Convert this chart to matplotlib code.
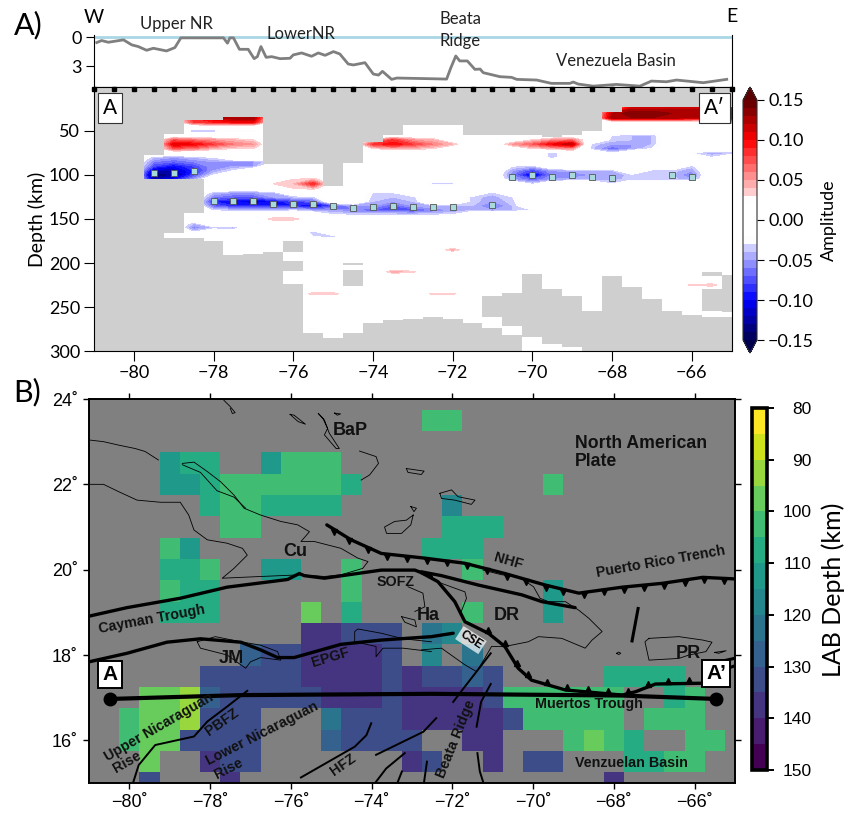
import numpy as np
import matplotlib
matplotlib.use("Agg")
import matplotlib.pyplot as plt
from matplotlib.colors import LinearSegmentedColormap

plt.rcParams['font.family'] = ['Lato', 'DejaVu Sans']

W, H = 851.0, 813.0

# Topography along the profile (lon, depth below sea level in km)
topo_lon = [-80.93, -80.81, -80.64, -80.26, -80.05, -79.89, -79.68, -79.51, -79.18, -78.97, -78.82, -77.75,
            -77.65, -77.59, -77.50, -77.35, -77.13, -76.98, -76.90, -76.81, -76.68, -76.54, -76.33, -76.08,
            -76.00, -75.79, -75.54, -75.37, -75.20, -74.99, -74.83, -74.62, -74.49, -74.20, -73.99, -73.86,
            -73.76, -73.53, -73.40, -72.57, -72.15, -72.05, -71.92, -71.82, -71.63, -71.44, -71.31, -71.23,
            -70.81, -70.52, -70.39, -69.89, -69.52, -69.06, -68.97, -68.85, -68.47, -67.89, -67.30, -67.01,
            -66.63, -66.38, -65.71, -65.12]
topo_depth = [0.54, 0.33, 0.51, 0.26, 0.79, 0.96, 1.35, 1.14, 1.42, 1.07, 0.05, 0.05,
              0.61, 0.05, 0.05, 1.25, 1.25, 2.23, 2.02, 0.96, 2.09, 2.02, 2.23, 2.19,
              1.84, 1.63, 1.98, 1.63, 1.88, 1.49, 1.74, 2.79, 2.89, 2.65, 3.84, 3.95,
              3.56, 4.40, 4.26, 4.33, 4.37, 3.25, 1.95, 2.47, 2.47, 3.35, 3.32, 3.70,
              4.12, 4.19, 4.40, 4.47, 4.82, 4.82, 4.68, 4.89, 5.11, 4.93, 5.11, 4.58,
              4.65, 4.47, 4.75, 4.40]

# Section amplitude in hundredths, depth (km) -> {lon: amp}; anything not listed is ~0
amp_rows = {
    20: {-67.5: 9, -67: 9, -66.5: 9, -66: 9, -65.5: 9, -65: 7},
    25: {-68: 6, -67.5: 12, -67: 12, -66.5: 12, -66: 12, -65.5: 12, -65: 10},
    30: {-77.5: 10, -77: 10, -68: 12, -67.5: 14, -67: 14, -66.5: 13, -66: 13, -65.5: 13, -65: 11},
    35: {-78.5: 9, -78: 11, -77.5: 13, -77: 13, -68: 13, -67.5: 13, -67: 13, -66.5: 13, -66: 12, -65.5: 11, -65: 11},
    40: {-78.5: 8, -78: 9, -77.5: 10, -77: 10, -65: 5},
    50: {-78.5: -5, -78: -4, -77.5: -3, -77: -3},
    55: {-68: -3, -67.5: -4, -67: -4},
    60: {-79: 7, -78.5: 6, -78: 5, -77.5: 4, -77: 3, -74: 3, -73.5: 8, -73: 5, -72.5: 4, -70: 3, -69.5: 5, -69: 6,
         -68: -3.5, -67.5: -4, -67: -4},
    65: {-79: 11, -78.5: 10, -78: 8, -77.5: 6, -77: 5, -74: 8, -73.5: 10, -73: 8, -72.5: 6, -72: 4, -70.5: 5, -70: 7,
         -69.5: 10, -69: 12, -68.5: -3.5, -68: -5, -67.5: -5, -67: -4},
    70: {-79: 7, -78.5: 6, -78: 4, -77.5: 3, -77: 3, -74: 3, -73.5: 4, -73: 4, -72.5: 3, -70: 3, -69.5: 4, -69: 5,
         -68.5: -4, -68: -7, -67.5: -5, -67: -3},
    75: {-69.5: -4, -68: -3, -66: -3, -65.5: -5, -65: -4},
    80: {-79.5: -4, -79: -5, -78.5: -4, -78: -3, -69.5: -4, -65.5: -3},
    85: {-79.5: -6, -79: -7, -78.5: -6, -78: -5, -77.5: -5, -77: -5, -76.5: -3},
    90: {-79.5: -8, -79: -10, -78.5: -8, -78: -5, -77.5: -5, -77: -5, -70.5: -3, -70: -4, -66: -3.5},
    95: {-79.5: -12, -79: -12, -78.5: -9, -78: -5, -77.5: -3, -70.5: -5, -70: -8, -69.5: -5, -69: -4.5, -68.5: -4,
         -68: -4, -67: -3.5, -66.5: -3.5, -66: -5},
    100: {-79.5: -15, -79: -13, -78.5: -8, -78: -3, -70.5: -6, -70: -12, -69.5: -6, -69: -6, -68.5: -5, -68: -5,
          -67.5: -3.5, -67: -4, -66.5: -4, -66: -6},
    105: {-79.5: -12, -79: -10, -78.5: -5, -76: 3, -75.5: 4, -70.5: -5, -70: -7, -69.5: -5, -69: -4.5, -68.5: -4.5,
          -68: -4.5, -67.5: -3.5, -67: -3.5, -66.5: -3.5, -66: -5},
    110: {-76.5: 3, -76: 4, -75.5: 9, -72.5: -4, -72: -4, -70: -3.5, -68: -3},
    115: {-76: 3, -75.5: 4},
    120: {-78: -4, -77.5: -5, -77: -5, -76.5: -4, -74: -3, -73.5: -3, -71: -3.5},
    125: {-78: -6, -77.5: -7, -77: -7, -76.5: -5, -76: -4, -75.5: -3.5, -74: -3.5, -73.5: -4, -73: -3.5, -71.5: -3.5,
          -71: -4.5, -70.5: -3},
    130: {-78: -9, -77.5: -10, -77: -11, -76.5: -10, -76: -8, -75.5: -7, -74: -4, -73.5: -5, -73: -4, -71.5: -3.5,
          -71: -5, -70.5: -3.5},
    135: {-78: -7, -77.5: -9, -77: -9, -76.5: -9, -76: -9, -75.5: -11, -75: -8, -74.5: -5, -74: -5, -73.5: -7,
          -73: -5, -72.5: -4, -72: -4, -71.5: -4, -71: -7, -70.5: -4},
    140: {-78: -3.5, -77.5: -4, -77: -4.5, -76.5: -4.5, -76: -3.5, -75.5: -5, -75: -5, -74.5: -6, -74: -7, -73.5: -7,
          -73: -8, -72.5: -6, -72: -5, -71.5: -4, -71: -5, -70.5: -4, -70: -3},
    145: {-75: -3, -74.5: -3.5, -74: -3.5, -73.5: -3.5, -73: -3.5, -72.5: -3.5, -72: -3},
    150: {-76.5: 4, -76: 4},
    155: {-78.5: -4},
    160: {-78.5: -6, -78: -4, -77.5: -5},
    165: {-78.5: -3, -75.5: -4},
    170: {-75.5: -3, -75: -4},
    185: {-72: 4.5},
    205: {-70: -3.2},
    210: {-73.5: 4.5, -73: 3.5},
    225: {-66: 3.5, -65.5: 4},
    235: {-75.5: 4, -75: 4, -72.5: 3.5, -72: 3.5},
    275: {-75.5: -4},
}

# Coverage of the section: per column, top and bottom of the resolved depths
cover_lon = [-81, -80.5, -80, -79.5, -79, -78.5, -78, -77.5, -77, -76.5, -76, -75.5, -75, -74.5, -74, -73.5, -73,
             -72.5, -72, -71.5, -71, -70.5, -70, -69.5, -69, -68.5, -68, -67.5, -67, -66.5, -66, -65.5, -65]
cover_top = [300, 300, 300, 77, 53, 37, 37, 34, 34, 87, 87, 87, 113, 86, 63, 55, 43,
             43, 43, 55, 55, 55, 55, 57, 55, 50, 28, 23, 23, 23, 23, 23, 23]
cover_bot = [300, 300, 300, 104, 172, 172, 175, 191, 190, 188, 224, 280, 285, 280, 268, 265, 264,
             261, 264, 268, 274, 282, 300, 300, 300, 254, 215, 227, 241, 254, 259, 261, 261]
# Grey gaps inside the covered columns
gap_lon = [-79, -78.5, -76, -76, -74.5, -71, -70.5, -70, -69.5, -69, -65.5, -65, -70, -74.5]
gap_top = [104, 104, 175, 198, 208, 237, 234, 212, 230, 237, 210, 214, 282, 200]
gap_bot = [166, 143, 188, 209, 226, 261, 272, 282, 292, 295, 215, 256, 284, 202]
gap2_lon = [-65.5]
gap2_top = [229]
gap2_bot = [254]

# Picked LAB points on the section
lab_pick_lon = [-79.5, -79, -78.5, -78, -77.5, -77, -76.5, -76, -75.5, -75, -74.5, -74, -73.5, -73, -72.5, -72,
                -71, -70.5, -70, -69.5, -69, -68.5, -68, -66.5, -66]
lab_pick_depth = [98, 98, 96, 130, 130, 130, 133, 133, 133, 135, 137, 136, 135, 136, 136, 136,
                  134, 102, 100, 102, 100, 102, 103, 100, 102]
station_lon = [-81 + 0.5 * i for i in range(33)]

amp_ticks = [0.15, 0.10, 0.05, 0.00, -0.05, -0.10, -0.15]
amp_tick_labels = ['0.15', '0.10', '0.05', '0.00', '\u22120.05', '\u22120.10', '\u22120.15']

# LAB depth map, latitude -> {lon: depth km}
lab_rows = {
    23.5: {-72.5: 102, -72: 102},
    22.5: {-79: 112, -78.5: 107, -78: 107, -76.5: 112, -76: 102, -75.5: 102, -75: 102},
    22: {-79: 112, -78.5: 112, -78: 107, -77.5: 102, -77: 102, -76.5: 102, -76: 102, -75.5: 102, -75: 102,
         -74.5: 107, -69.5: 102},
    21.5: {-78: 107, -77.5: 102, -77: 102, -76.5: 107, -76: 107, -75.5: 107, -75: 107, -72: 117},
    21: {-77.5: 102, -77: 102, -72: 107, -71.5: 107, -71: 107},
    20.5: {-79: 102, -78.5: 112, -72.5: 107, -72: 107, -71.5: 107},
    20: {-79: 107, -78.5: 107, -78: 102, -76.5: 112, -76: 112, -74.5: 102, -71.5: 102},
    19.5: {-79: 102, -78.5: 107, -78: 107, -74.5: 102, -69.5: 112},
    19: {-79: 107, -78.5: 107, -78: 107, -75.5: 97, -74.5: 107, -71.5: 102, -69.5: 112},
    18.5: {-75.5: 137, -75: 137, -74.5: 132, -74: 132, -73.5: 132, -72.5: 122, -72: 117},
    18: {-77: 127, -76.5: 132, -76: 132, -75.5: 137, -75: 137, -74.5: 137, -74: 137, -73.5: 132, -72.5: 117,
         -71.5: 122},
    17.5: {-78: 132, -77.5: 132, -77: 132, -76.5: 132, -76: 132, -75.5: 137, -75: 137, -74.5: 137, -74: 137,
           -73.5: 132, -73: 137, -72.5: 132, -72: 132, -71.5: 127, -71: 132, -68: 107, -67.5: 107, -67: 107,
           -66.5: 107},
    17: {-79.5: 97, -79: 97, -78.5: 92, -78: 127, -77.5: 132, -77: 132, -76.5: 132, -76: 132, -75.5: 132, -75: 137,
         -74.5: 137, -74: 137, -73.5: 132, -73: 137, -72.5: 137, -72: 137, -71.5: 137, -71: 132, -70.5: 102,
         -70: 102, -69.5: 102, -69: 102, -68.5: 102, -68: 102, -66.5: 107, -66: 102},
    16.5: {-80: 102, -79.5: 97, -79: 97, -78.5: 92, -78: 132, -77.5: 132, -77: 132, -75: 122, -74.5: 132, -74: 132,
           -73.5: 132, -73: 137, -72.5: 137, -72: 137, -71.5: 137, -71: 137, -70.5: 132, -70: 102, -69.5: 102,
           -69: 102, -68.5: 102, -68: 102, -67: 102, -66.5: 102, -66: 102},
    16: {-80: 102, -79.5: 97, -79: 97, -78.5: 132, -78: 132, -77.5: 132, -77: 132, -75: 127, -74.5: 132, -74: 132,
         -73.5: 132, -73: 132, -71.5: 137, -71: 137, -69: 102, -68.5: 97, -68: 102, -67.5: 107, -66: 102, -65.5: 102},
    15.5: {-79.5: 97, -78: 137, -77.5: 132, -77: 132, -73: 137, -72.5: 132, -71: 137, -70: 132, -69.5: 132,
           -67.5: 107, -67: 107, -66.5: 102, -66: 102},
    15: {-79.5: 132, -77.5: 137, -68: 137},
}
lab_ticks = [80, 90, 100, 110, 120, 130, 140, 150]

# Coastlines
coast_lines = [
    [(-81, 23.04), (-80.64, 23.0), (-80.27, 22.92), (-79.86, 22.84), (-79.61, 22.77), (-79.28, 22.57)],
    [(-81, 22.0), (-80.64, 22.0), (-80.27, 21.83), (-79.81, 21.63), (-79.23, 21.58), (-78.74, 21.58), (-78.53, 21.28),
     (-78.40, 20.93), (-78.07, 20.70), (-77.58, 20.62), (-77.2, 20.5), (-77.08, 20.34), (-77.41, 20.03),
     (-77.70, 19.80), (-76.75, 19.84), (-75.75, 19.88), (-75.17, 19.84), (-74.76, 19.88), (-74.22, 20.03),
     (-74.09, 20.19), (-74.34, 20.27), (-74.76, 20.5), (-75.42, 20.66), (-75.75, 20.66), (-75.54, 20.89),
     (-75.83, 21.05), (-76.25, 21.13), (-76.75, 21.28), (-77.16, 21.44), (-77.41, 21.75), (-77.74, 22.06),
     (-78.07, 22.30), (-78.40, 22.52), (-78.69, 22.49)],
    [(-78.69, 22.46), (-78.24, 22.28), (-77.83, 21.85), (-77.41, 21.70), (-77.12, 21.44)],
    [(-77.66, 23.97), (-77.5, 23.82), (-77.38, 23.68), (-77.45, 23.66), (-77.5, 23.78)],
    [(-76.02, 23.64), (-75.92, 23.62), (-75.64, 23.41), (-75.82, 23.47), (-76.02, 23.64)],
    [(-75.32, 23.66), (-75.17, 23.51), (-75.05, 23.2), (-74.8, 22.84), (-74.88, 22.84), (-75.17, 23.16),
     (-75.09, 23.31), (-75.21, 23.55), (-75.32, 23.66)],
    [(-74.92, 23.67), (-74.77, 23.65), (-74.85, 23.62), (-74.92, 23.67)],
    [(-74.3, 22.78), (-73.89, 22.65), (-73.83, 22.49), (-74.05, 22.22), (-74.26, 22.1)],
    [(-73.14, 22.37), (-72.7, 22.31), (-72.77, 22.23), (-73.1, 22.28), (-73.14, 22.37)],
    [(-73.03, 21.48), (-72.89, 21.44), (-72.95, 21.36), (-73.03, 21.48)],
    [(-72.97, 21.28), (-73.03, 21.05), (-73.26, 20.85), (-73.63, 20.85), (-73.68, 21.0), (-73.43, 21.13),
     (-73.14, 21.16), (-72.97, 21.28)],
    [(-72.31, 21.79), (-72.02, 21.87), (-71.86, 21.71), (-71.44, 21.63), (-71.53, 21.53), (-71.94, 21.63),
     (-72.27, 21.67), (-72.31, 21.79)],
    [(-71.24, 19.99), (-70.78, 19.88), (-70.37, 19.84), (-69.99, 19.6), (-69.83, 19.33), (-69.62, 19.25),
     (-69.2, 19.25), (-68.87, 19.05), (-68.62, 18.86), (-68.29, 18.55), (-68.54, 18.35), (-68.71, 18.16),
     (-69.29, 18.39), (-69.87, 18.43), (-70.12, 18.31), (-70.7, 18.2), (-71.03, 18.2), (-71.2, 17.92),
     (-71.4, 17.61), (-71.69, 17.77), (-72.27, 18.16), (-72.77, 18.12)],
    [(-72.77, 19.95), (-72.27, 19.68), (-71.69, 19.48), (-71.65, 19.33), (-71.78, 19.02)],
    [(-73.1, 19.6), (-72.73, 19.45), (-72.68, 19.13), (-72.93, 19.02)],
    [(-73.26, 18.9), (-72.93, 18.82), (-72.89, 18.66), (-73.18, 18.77), (-73.26, 18.9)],
    [(-72.52, 18.31), (-73.22, 18.38), (-73.76, 18.51), (-74.34, 18.61), (-74.42, 18.55), (-74.42, 18.31),
     (-73.89, 18.2), (-73.89, 17.96), (-73.72, 18.16), (-73.22, 18.16), (-72.52, 18.08)],
    [(-78.32, 18.31), (-77.87, 18.43), (-77.24, 18.31), (-76.75, 18.23), (-76.33, 18.08), (-76.25, 17.88),
     (-76.75, 17.94), (-77.0, 17.84), (-77.12, 17.69), (-77.24, 17.77), (-77.58, 18.0), (-78.24, 18.16),
     (-78.32, 18.31)],
    [(-67.13, 18.39), (-66.39, 18.43), (-65.8, 18.35), (-65.57, 18.3), (-65.72, 18.08), (-66.14, 18.0),
     (-66.39, 17.92), (-67.13, 17.88), (-67.23, 18.31), (-67.13, 18.39)],
    [(-67.93, 18.04), (-67.88, 18.07), (-67.83, 18.04), (-67.88, 18.01), (-67.93, 18.04)],
    [(-65.51, 18.06), (-65.22, 18.1), (-65.4, 18.04), (-65.51, 18.06)],
]

# Main plate boundaries
cayman_lon = [-81, -80.06, -78.74, -77.58, -76.08, -75.79, -75.67, -75.17, -73.76, -72.93, -72.52]
cayman_lat = [18.91, 19.11, 19.33, 19.59, 19.77, 19.91, 19.86, 19.8, 19.99, 19.99, 19.84]
sofz_lon = [-72.77, -72.27, -71.36, -70.28, -69.78, -68.96]
sofz_lat = [19.95, 19.86, 19.64, 19.41, 19.25, 19.11]
muertos_lon = [-72.77, -72.36, -71.94, -71.69, -71.11, -70.7, -70.37, -70.04, -69.2, -67.79, -67.46, -66.97, -65.72]
muertos_lat = [19.93, 19.72, 19.25, 18.78, 18.51, 18.2, 17.69, 17.41, 17.18, 17.06, 17.14, 17.32, 17.34]
nhf_lon = [-75.11, -74.51, -73.76, -72.68, -71.69, -70.7, -69.7, -68.87, -67.79, -66.8, -65.8, -64.93]
nhf_lat = [21.05, 20.7, 20.38, 20.27, 20.15, 19.91, 19.64, 19.45, 19.59, 19.68, 19.82, 19.78]
epgf_lon = [-81, -80.06, -79.07, -78.24, -77.24, -76.75, -76.33, -75.92, -74.76, -73.76, -72.52, -71.98]
epgf_lat = [17.84, 18.04, 18.3, 18.38, 18.3, 18.12, 17.94, 17.94, 18.25, 18.35, 18.43, 18.51]
profile_lon = [-80.48, -77.24, -72.52, -67.8, -65.47]
profile_lat = [16.97, 17.06, 17.09, 17.05, 16.97]
nhf_teeth = [-74.92, -74.55, -74.09, -73.62, -73.12, -72.63, -72.14, -71.65, -71.15, -70.65, -70.17, -69.68, -69.25,
             -68.75, -68.25, -67.75, -67.25, -66.75, -66.25, -65.78, -65.28]
muertos_teeth = [-71.11, -70.7, -70.41, -70.12, -69.66, -69.15, -68.65, -68.14, -67.65, -67.16, -66.65, -66.14]

# Smaller faults
small_faults = [
    [(-79.9, 15.03), (-79.77, 15.42), (-79.36, 15.89), (-78.4, 16.09), (-78.07, 16.44), (-77.58, 16.79), (-77.08, 17.16)],
    [(-75.75, 15.13), (-74.42, 15.85), (-74.13, 16.12), (-74.01, 16.4)],
    [(-73.89, 15.66), (-72.72, 16.2), (-72.4, 16.52)],
    [(-73.89, 15.03), (-73.64, 15.34), (-73.18, 15.7)],
    [(-73.35, 15.03), (-73.25, 15.27)],
    [(-72.7, 15.03), (-72.63, 15.5)],
    [(-71.98, 16.9), (-71.69, 17.26), (-71.05, 18.04)],
    [(-71.4, 16.32), (-71.29, 16.9), (-71.05, 17.32)],
    [(-71.38, 15.7), (-71.32, 15.27), (-71.24, 15.03)],
]
thick_faults = [
    [(-67.4, 19.09), (-67.55, 18.33)],
    [(-65.39, 17.84), (-64.93, 17.94)],
    [(-65.18, 17.69), (-64.93, 17.77)],
]

# Map labels: text, lon, lat, size, rotation
map_labels = [
    ('BaP', -74.54, 23.26, 13, 0), ('Cu', -75.89, 20.42, 13, 0), ('JM', -77.47, 17.92, 13, 0),
    ('Ha', -72.6, 18.92, 13, 0), ('DR', -70.66, 18.92, 13, 0), ('PR', -66.16, 18.04, 13, 0),
    ('SOFZ', -73.4, 19.72, 10.3, 0), ('NHF', -70.61, 20.19, 10.3, -16), ('Puerto Rico Trench', -66.84, 20.19, 10.3, 10),
    ('Cayman Trough', -79.44, 18.84, 10.3, 10.5), ('EPGF', -75.02, 17.94, 10.3, 17), ('PBFZ', -77.7, 16.42, 10.3, 35),
    ('HFZ', -74.71, 15.42, 10.3, 35), ('Upper Nicaraguan', -79.26, 16.32, 10.3, 30), ('Rise', -80.06, 15.5, 10.3, 30),
    ('Lower Nicaraguan', -76.72, 16.16, 10.3, 27), ('Rise', -77.53, 15.34, 10.3, 27), ('Beata Ridge', -71.9, 16.03, 10.3, 68),
    ('Muertos Trough', -68.62, 16.85, 10.3, 0), ('Venzuelan Basin', -67.56, 15.48, 10.3, 0),
]


def axes_px(x0, y0, x1, y1):
    return [x0 / W, 1 - y1 / H, (x1 - x0) / W, (y1 - y0) / H]


fig = plt.figure(figsize=(W / 100, H / 100), dpi=100)

# ---- topography strip
ax_topo = fig.add_axes(axes_px(94, 35, 731.5, 87))
ax_topo.axhline(0, color='#a9d6e5', lw=2)
ax_topo.plot(topo_lon, topo_depth, color='#7f7f7f', lw=2)
ax_topo.set_xlim(-81, -65)
ax_topo.set_ylim(5.2, -0.25)
ax_topo.set_yticks([0, 3])
ax_topo.set_xticks([])
ax_topo.tick_params(axis='y', labelsize=13, length=6, pad=3)
ax_topo.spines['top'].set_visible(False)
for txt, x, y, ha in [('Upper NR', -78.94, -1.42, 'center'), ('LowerNR', -75.81, -0.37, 'center'),
                      ('Beata\nRidge', -72.34, -0.8, 'left'), ('Venezuela Basin', -67.9, 2.47, 'center')]:
    ax_topo.text(x, y, txt, fontsize=12, ha=ha, va='center', color='#222222', clip_on=False, linespacing=1.5)
ax_topo.text(-81, -2.05, 'W', fontsize=14, ha='center', va='center', clip_on=False)
ax_topo.text(-65, -2.15, 'E', fontsize=14, ha='center', va='center', clip_on=False)

# ---- amplitude section
section_depth = np.arange(0, 305, 5)
section_amp = np.zeros((len(section_depth), len(station_lon)))
for depth, row in amp_rows.items():
    for lon, val in row.items():
        section_amp[list(section_depth).index(depth), station_lon.index(lon)] = val / 100.0

amp_cmap = LinearSegmentedColormap.from_list('amp', [
    (0.0, '#00004d'), (0.05 / 0.3, '#0000ff'), (0.12 / 0.3, '#dcdcff'), (0.125 / 0.3, '#ffffff'),
    (0.175 / 0.3, '#ffffff'), (0.18 / 0.3, '#ffdcdc'), (0.25 / 0.3, '#ff0000'), (1.0, '#5a0000')], N=256)
amp_cmap.set_under('#00004d')
amp_cmap.set_over('#5a0000')

ax_sec = fig.add_axes(axes_px(94, 87, 731.5, 351))
levels = np.linspace(-0.15, 0.15, 31)
cf = ax_sec.contourf(station_lon, section_depth, section_amp, levels=levels, cmap=amp_cmap, extend='both')
grey = '#cfcfcf'
kw = dict(width=0.5, color=grey, linewidth=0, zorder=2)
ax_sec.bar(cover_lon, cover_top, bottom=0, **kw)
ax_sec.bar(cover_lon, np.array([300] * 33) - np.array(cover_bot), bottom=cover_bot, **kw)
ax_sec.bar(gap_lon, np.array(gap_bot) - np.array(gap_top), bottom=gap_top, **kw)
ax_sec.bar(gap2_lon, np.array(gap2_bot) - np.array(gap2_top), bottom=gap2_top, **kw)
ax_sec.plot(station_lon, [2.5] * 33, ls='none', marker='s', ms=3, color='k', zorder=4, clip_on=False)
ax_sec.plot(lab_pick_lon, lab_pick_depth, ls='none', marker='s', ms=4, mfc='#a8dadc', mec='#555555', mew=0.6, zorder=4)
ax_sec.set_xlim(-81, -65)
ax_sec.set_ylim(300, 0)
ax_sec.set_xticks(range(-80, -64, 2))
ax_sec.set_xticklabels(['\u2212%d' % v for v in range(80, 64, -2)])
ax_sec.set_yticks(range(50, 301, 50))
ax_sec.tick_params(labelsize=13, length=7, pad=3)
ax_sec.set_ylabel('Depth (km)', fontsize=14, labelpad=2)
box = dict(boxstyle='square,pad=0.25', fc='white', ec='#333333', lw=0.8)
ax_sec.text(-80.6, 24, 'A', fontsize=15, ha='center', va='center', bbox=box, zorder=5)
ax_sec.text(-65.42, 24, 'A\u2032', fontsize=15, ha='center', va='center', bbox=box, zorder=5)

cax_amp = fig.add_axes(axes_px(743, 87, 757, 353))
cb = fig.colorbar(cf, cax=cax_amp, extendfrac=13 / 240.0)
cb.set_ticks(amp_ticks)
cb.set_ticklabels(amp_tick_labels)
cb.ax.tick_params(labelsize=13, length=5, pad=3)
cb.outline.set_edgecolor('#333333')
cb.set_label('Amplitude', fontsize=13, labelpad=5)

# ---- LAB depth map
lab_lon = np.arange(-81, -64.5, 0.5)
lab_lat = np.arange(15, 24.5, 0.5)
lab_depth = np.full((len(lab_lat), len(lab_lon)), np.nan)
for lat, row in lab_rows.items():
    for lon, val in row.items():
        lab_depth[int((lat - 15) * 2), int((lon + 81) * 2)] = val

ax_map = fig.add_axes(axes_px(89, 399, 735, 783))
ax_map.set_facecolor('#808080')
pm = ax_map.pcolormesh(lab_lon, lab_lat, np.ma.masked_invalid(lab_depth), shading='nearest',
                       cmap=plt.get_cmap('viridis_r', 14), vmin=80, vmax=150)
for line in coast_lines:
    xy = np.array(line)
    ax_map.plot(xy[:, 0], xy[:, 1], color='k', lw=0.6)
for line in small_faults:
    xy = np.array(line)
    ax_map.plot(xy[:, 0], xy[:, 1], color='k', lw=1.4)
for line in thick_faults:
    xy = np.array(line)
    ax_map.plot(xy[:, 0], xy[:, 1], color='k', lw=2.2)
for x, y in [(cayman_lon, cayman_lat), (sofz_lon, sofz_lat), (muertos_lon, muertos_lat), (nhf_lon, nhf_lat), (epgf_lon, epgf_lat)]:
    ax_map.plot(x, y, color='k', lw=2.4, solid_capstyle='round')
ax_map.plot(nhf_teeth, np.interp(nhf_teeth, nhf_lon, nhf_lat) - 0.06, ls='none', marker='v', ms=4.5, color='k')
ax_map.plot(muertos_teeth, np.interp(muertos_teeth, muertos_lon, muertos_lat) + 0.07, ls='none', marker='^', ms=4.5, color='k')
ax_map.plot(profile_lon, profile_lat, color='k', lw=3)
ax_map.plot([profile_lon[0], profile_lon[-1]], [profile_lat[0], profile_lat[-1]], ls='none', marker='o', ms=9, color='k')

map_font = ['Liberation Sans', 'DejaVu Sans']
for txt, x, y, size, rot in map_labels:
    ax_map.text(x, y, txt, fontsize=size, rotation=rot, ha='center', va='center', fontweight='bold',
                family=map_font, color='#111111', rotation_mode='anchor', linespacing=1.0)
ax_map.text(-68.96, 22.74, 'North American\nPlate', fontsize=12.7, fontweight='bold', family=map_font, ha='left', va='center',
            color='#111111', linespacing=1.05)
ax_map.text(-71.54, 18.35, 'CSE', fontsize=8.5, rotation=-33, fontweight='bold', family=map_font, ha='center', va='center',
            bbox=dict(boxstyle='square,pad=0.15', fc='white', ec='none', alpha=0.7), rotation_mode='anchor')
box_map = dict(boxstyle='square,pad=0.2', fc='white', ec='k', lw=1.4)
ax_map.text(-80.48, 17.55, 'A', fontsize=15, fontweight='bold', family=map_font, ha='center', va='center', bbox=box_map)
ax_map.text(-65.47, 17.57, 'A\u2019', fontsize=15, fontweight='bold', family=map_font, ha='center', va='center', bbox=box_map)

ax_map.set_xlim(-81, -65)
ax_map.set_ylim(15, 24)
ax_map.set_xticks(range(-80, -64, 2))
ax_map.set_xticklabels(['\u2212%d\u02da' % v for v in range(80, 64, -2)], family=map_font)
ax_map.set_yticks(range(16, 25, 2))
ax_map.set_yticklabels(['%d\u02da' % v for v in range(16, 25, 2)], family=map_font)
ax_map.tick_params(labelsize=13, length=4, width=1.0, top=True, right=True, pad=4)
for s in ax_map.spines.values():
    s.set_linewidth(1.4)

cax_lab = fig.add_axes(axes_px(752, 408, 767, 770))
cb2 = fig.colorbar(pm, cax=cax_lab)
cb2.set_ticks(lab_ticks)
cb2.set_ticklabels(['%d' % v for v in lab_ticks])
cax_lab.invert_yaxis()
for t in cb2.ax.get_yticklabels():
    t.set_fontfamily(map_font)
    t.set_ha('right')
cb2.ax.tick_params(labelsize=12.5, length=5, width=1.4, pad=27)
cb2.outline.set_linewidth(2.6)
fig.text(833 / W, 1 - 590 / H, 'LAB Depth (km)', fontsize=18, rotation=90, ha='center', va='center')

fig.text(28 / W, 1 - 25 / H, 'A)', fontsize=22, ha='center', va='center')
fig.text(27 / W, 1 - 392 / H, 'B)', fontsize=22, ha='center', va='center')

fig.savefig('out.png', dpi=100)
